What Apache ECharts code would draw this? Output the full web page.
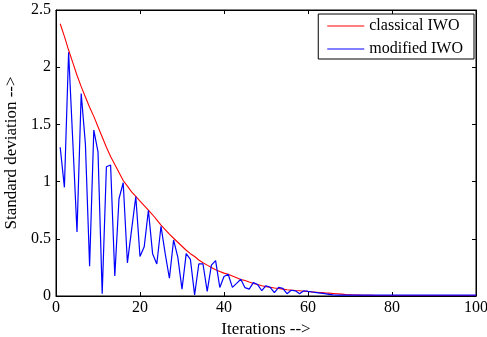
<!DOCTYPE html>
<html><head><meta charset="utf-8">
<script src="https://cdn.jsdelivr.net/npm/echarts@6/dist/echarts.min.js"></script>
<style>html,body{margin:0;padding:0;background:#fff}#c{width:487px;height:337px}</style>
</head><body><div id="c"></div>
<script>
const iterations = Array.from({length: 100}, (_, i) => i + 1);
const classicalIWO = [
  2.38, 2.27, 2.15, 2.04, 1.93, 1.83, 1.74, 1.65, 1.57, 1.48,
  1.39, 1.30, 1.22, 1.15, 1.08, 1.01, 0.96, 0.91, 0.87, 0.83,
  0.79, 0.75, 0.71, 0.665, 0.62, 0.58, 0.54, 0.505, 0.47, 0.435,
  0.40, 0.37, 0.345, 0.315, 0.29, 0.27, 0.25, 0.23, 0.215, 0.20,
  0.19, 0.175, 0.16, 0.145, 0.135, 0.122, 0.11, 0.10, 0.09, 0.082,
  0.076, 0.07, 0.065, 0.06, 0.055, 0.051, 0.048, 0.046, 0.042, 0.04,
  0.036, 0.033, 0.03, 0.027, 0.025, 0.022, 0.019, 0.016, 0.013, 0.011,
  0.009, 0.008, 0.007, 0.006, 0.006, 0.005, 0.005, 0.005, 0.004, 0.004,
  0.004, 0.004, 0.004, 0.004, 0.004, 0.004, 0.004, 0.004, 0.004, 0.004,
  0.004, 0.004, 0.004, 0.004, 0.004, 0.004, 0.004, 0.004, 0.004, 0.004
];
const modifiedIWO = [
  1.30, 0.95, 2.13, 1.35, 0.56, 1.77, 1.33, 0.26, 1.45, 1.26,
  0.02, 1.13, 1.145, 0.175, 0.85, 0.99, 0.29, 0.58, 0.87, 0.345,
  0.43, 0.75, 0.37, 0.28, 0.61, 0.37, 0.155, 0.49, 0.34, 0.06,
  0.37, 0.32, 0.01, 0.28, 0.28, 0.04, 0.27, 0.31, 0.075, 0.17,
  0.19, 0.075, 0.11, 0.146, 0.073, 0.06, 0.117, 0.10, 0.046, 0.09,
  0.075, 0.03, 0.075, 0.066, 0.02, 0.05, 0.045, 0.02, 0.046, 0.04,
  0.035, 0.03, 0.025, 0.02, 0.015, 0.01, 0.008, 0.008, 0.008, 0.008,
  0.008, 0.008, 0.008, 0.008, 0.008, 0.008, 0.008, 0.008, 0.008, 0.008,
  0.008, 0.008, 0.008, 0.008, 0.008, 0.008, 0.008, 0.008, 0.008, 0.008,
  0.008, 0.008, 0.008, 0.008, 0.008, 0.008, 0.008, 0.008, 0.008, 0.008
];
const seriesNames = ['classical IWO', 'modified IWO'];
const xTicks = {min: 0, max: 100, interval: 20};
const yTicks = {min: 0, max: 2.5, interval: 0.5};

const FONT = 'Liberation Serif';
function common() {
  return {
    axisLine: {show: true, onZero: false, lineStyle: {color: '#000', width: 1}},
    axisTick: {show: true, inside: true, length: 4, lineStyle: {color: '#000', width: 1}},
    splitLine: {show: false}
  };
}
const chart = echarts.init(document.getElementById('c'), null, {renderer: 'canvas'});
chart.setOption({
  animation: false,
  backgroundColor: '#fff',
  grid: {left: 56, right: 11, top: 10, bottom: 41, containLabel: false, outerBoundsMode: 'none',
    show: true, borderColor: '#000', borderWidth: 1, backgroundColor: 'rgba(0,0,0,0)'},
  legend: {
    data: seriesNames,
    orient: 'vertical',
    right: 13, top: 14,
    icon: 'rect', itemWidth: 37, itemHeight: 1.2, itemGap: 7,
    padding: [4, 11, 2, 9],
    borderColor: '#000', borderWidth: 1, backgroundColor: '#fff',
    textStyle: {fontFamily: FONT, fontSize: 16, color: '#000'}
  },
  xAxis: [
    Object.assign({type: 'value', position: 'bottom', min: xTicks.min, max: xTicks.max, interval: xTicks.interval,
      name: 'Iterations -->', nameLocation: 'middle', nameGap: 19,
      nameTextStyle: {fontFamily: FONT, fontSize: 17, color: '#000'},
      axisLabel: {fontFamily: FONT, fontSize: 16, color: '#000', margin: 4}}, common()),
    Object.assign({type: 'value', position: 'top', min: xTicks.min, max: xTicks.max, interval: xTicks.interval,
      axisLabel: {show: false}}, common())
  ],
  yAxis: [
    Object.assign({type: 'value', position: 'left', min: yTicks.min, max: yTicks.max, interval: yTicks.interval,
      name: 'Standard deviation -->', nameLocation: 'middle', nameGap: 30,
      nameTextStyle: {fontFamily: FONT, fontSize: 17, color: '#000'},
      axisLabel: {fontFamily: FONT, fontSize: 16, color: '#000', margin: 5}}, common()),
    Object.assign({type: 'value', position: 'right', min: yTicks.min, max: yTicks.max, interval: yTicks.interval,
      axisLabel: {show: false}}, common())
  ],
  series: [
    {name: seriesNames[0], type: 'line', xAxisIndex: 0, yAxisIndex: 0, showSymbol: false, symbol: 'none',
      color: '#ff0000', lineStyle: {color: '#ff0000', width: 1.1},
      data: iterations.map((it, i) => [it, classicalIWO[i]])},
    {name: seriesNames[1], type: 'line', xAxisIndex: 0, yAxisIndex: 0, showSymbol: false, symbol: 'none',
      color: '#0000ff', lineStyle: {color: '#0000ff', width: 1.2},
      data: iterations.map((it, i) => [it, modifiedIWO[i]])}
  ]
});
</script></body></html>
